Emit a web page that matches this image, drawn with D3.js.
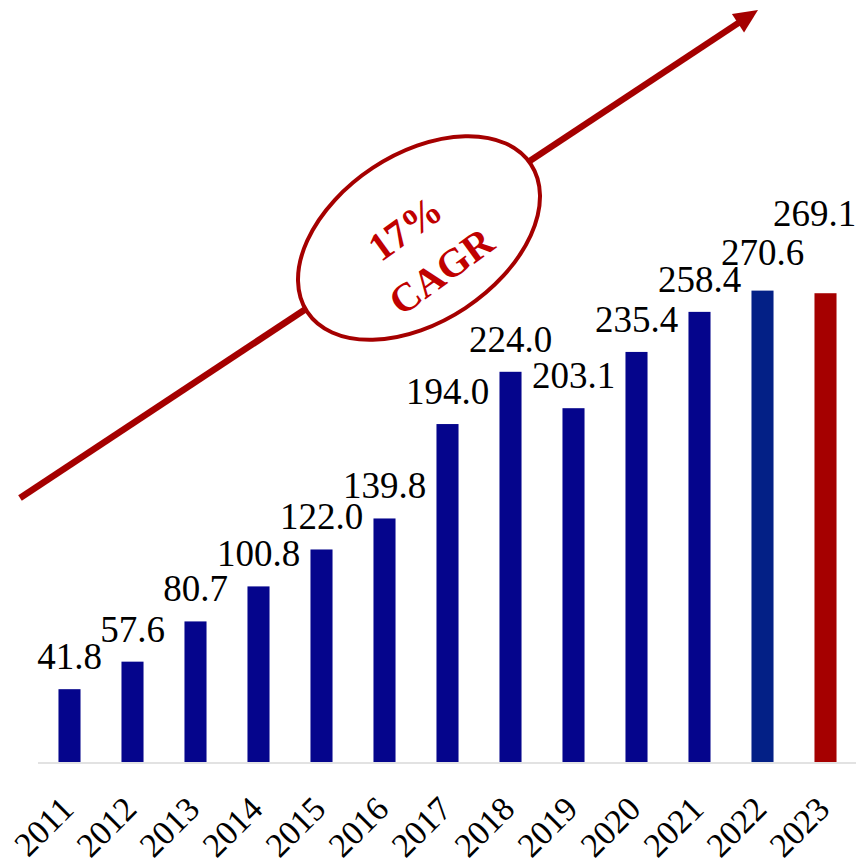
<!DOCTYPE html>
<html>
<head>
<meta charset="utf-8">
<script src="https://cdn.jsdelivr.net/npm/d3@7/dist/d3.min.js"></script>
<style>
  html, body { margin: 0; padding: 0; background: #ffffff; }
  svg { display: block; }
  svg text { font-family: "Liberation Serif", "Times New Roman", Tinos, "DejaVu Serif", serif; }
</style>
</head>
<body>
<div id="chart"></div>
<script>
// Yearly values, 2011–2023
const years = ["2011", "2012", "2013", "2014", "2015", "2016", "2017",
               "2018", "2019", "2020", "2021", "2022", "2023"];
const values = [41.8, 57.6, 80.7, 100.8, 122.0, 139.8, 194.0,
                224.0, 203.1, 235.4, 258.4, 270.6, 269.1];
const barColors = ["#05058c", "#05058c", "#05058c", "#05058c", "#05058c", "#05058c", "#05058c",
                   "#05058c", "#05058c", "#05058c", "#05058c", "#032086", "#a50000"];
const cagrLines = ["17%", "CAGR"];

const W = 856, H = 865;
const svg = d3.select("#chart").append("svg")
  .attr("width", W).attr("height", H);

const x = d3.scaleBand()
  .domain(years)
  .range([38, 857])
  .paddingInner(0.65)
  .paddingOuter(0.325);

const y = d3.scaleLinear()
  .domain([0, 300])
  .range([762, 762 - 300 * 1.742]);

// Growth arrow with the CAGR badge
const arrowColor = "#a50000";
const start = [20, 498], tip = [758, 10];
const ang = Math.atan2(tip[1] - start[1], tip[0] - start[0]);
const headLen = 24, headHalf = 11;
const lineEnd = [tip[0] - (headLen - 2) * Math.cos(ang), tip[1] - (headLen - 2) * Math.sin(ang)];

svg.append("line")
  .attr("x1", start[0]).attr("y1", start[1])
  .attr("x2", lineEnd[0]).attr("y2", lineEnd[1])
  .attr("stroke", arrowColor).attr("stroke-width", 6.5);

const bx = tip[0] - headLen * Math.cos(ang), by = tip[1] - headLen * Math.sin(ang);
const nx = -Math.sin(ang), ny = Math.cos(ang);
svg.append("path")
  .attr("d", `M${tip[0]},${tip[1]} L${bx + nx * headHalf},${by + ny * headHalf} L${bx - nx * headHalf},${by - ny * headHalf} Z`)
  .attr("fill", arrowColor);

const deg = ang * 180 / Math.PI;
const badge = svg.append("g").attr("transform", `translate(419,238)`);
badge.append("ellipse")
  .attr("rx", 134).attr("ry", 84)
  .attr("transform", `rotate(${deg})`)
  .attr("fill", "#ffffff")
  .attr("stroke", arrowColor).attr("stroke-width", 4);

const badgeText = badge.append("text")
  .attr("transform", `translate(3,17) rotate(-36)`)
  .attr("text-anchor", "middle")
  .attr("font-weight", "bold")
  .attr("font-size", 40)
  .attr("fill", "#c00000");
badgeText.selectAll("tspan")
  .data(cagrLines)
  .join("tspan")
  .attr("x", (d, i) => i === 0 ? 2 : 6)
  .attr("y", (d, i) => i === 0 ? -18 : 38)
  .text(d => d);

// Bars
svg.append("g")
  .selectAll("rect")
  .data(years)
  .join("rect")
  .attr("x", d => x(d))
  .attr("y", (d, i) => y(values[i]))
  .attr("width", x.bandwidth())
  .attr("height", (d, i) => y(0) - y(values[i]))
  .attr("fill", (d, i) => barColors[i]);

// Baseline
svg.append("line")
  .attr("x1", 38).attr("x2", W)
  .attr("y1", 763).attr("y2", 763)
  .attr("stroke", "#d9d9d9").attr("stroke-width", 1.6);

// Value labels; the two tallest ones are lifted so they clear their neighbours
const last = years.length - 1;
const lift = i => i === last ? 67 : i === last - 1 ? 26 : 20;
svg.append("g")
  .selectAll("text")
  .data(years)
  .join("text")
  .attr("x", (d, i) => x(d) + x.bandwidth() / 2 + (i === last ? -11 : 0))
  .attr("y", (d, i) => y(values[i]) - lift(i))
  .attr("text-anchor", "middle")
  .attr("font-size", 37)
  .attr("fill", "#000000")
  .text((d, i) => values[i].toFixed(1));

// Year labels, rotated
svg.append("g")
  .selectAll("text")
  .data(years)
  .join("text")
  .attr("transform", d => `translate(${x(d) + x.bandwidth() / 2 + 6},811) rotate(-45)`)
  .attr("text-anchor", "end")
  .attr("font-size", 34)
  .attr("fill", "#000000")
  .text(d => d);
</script>
</body>
</html>
